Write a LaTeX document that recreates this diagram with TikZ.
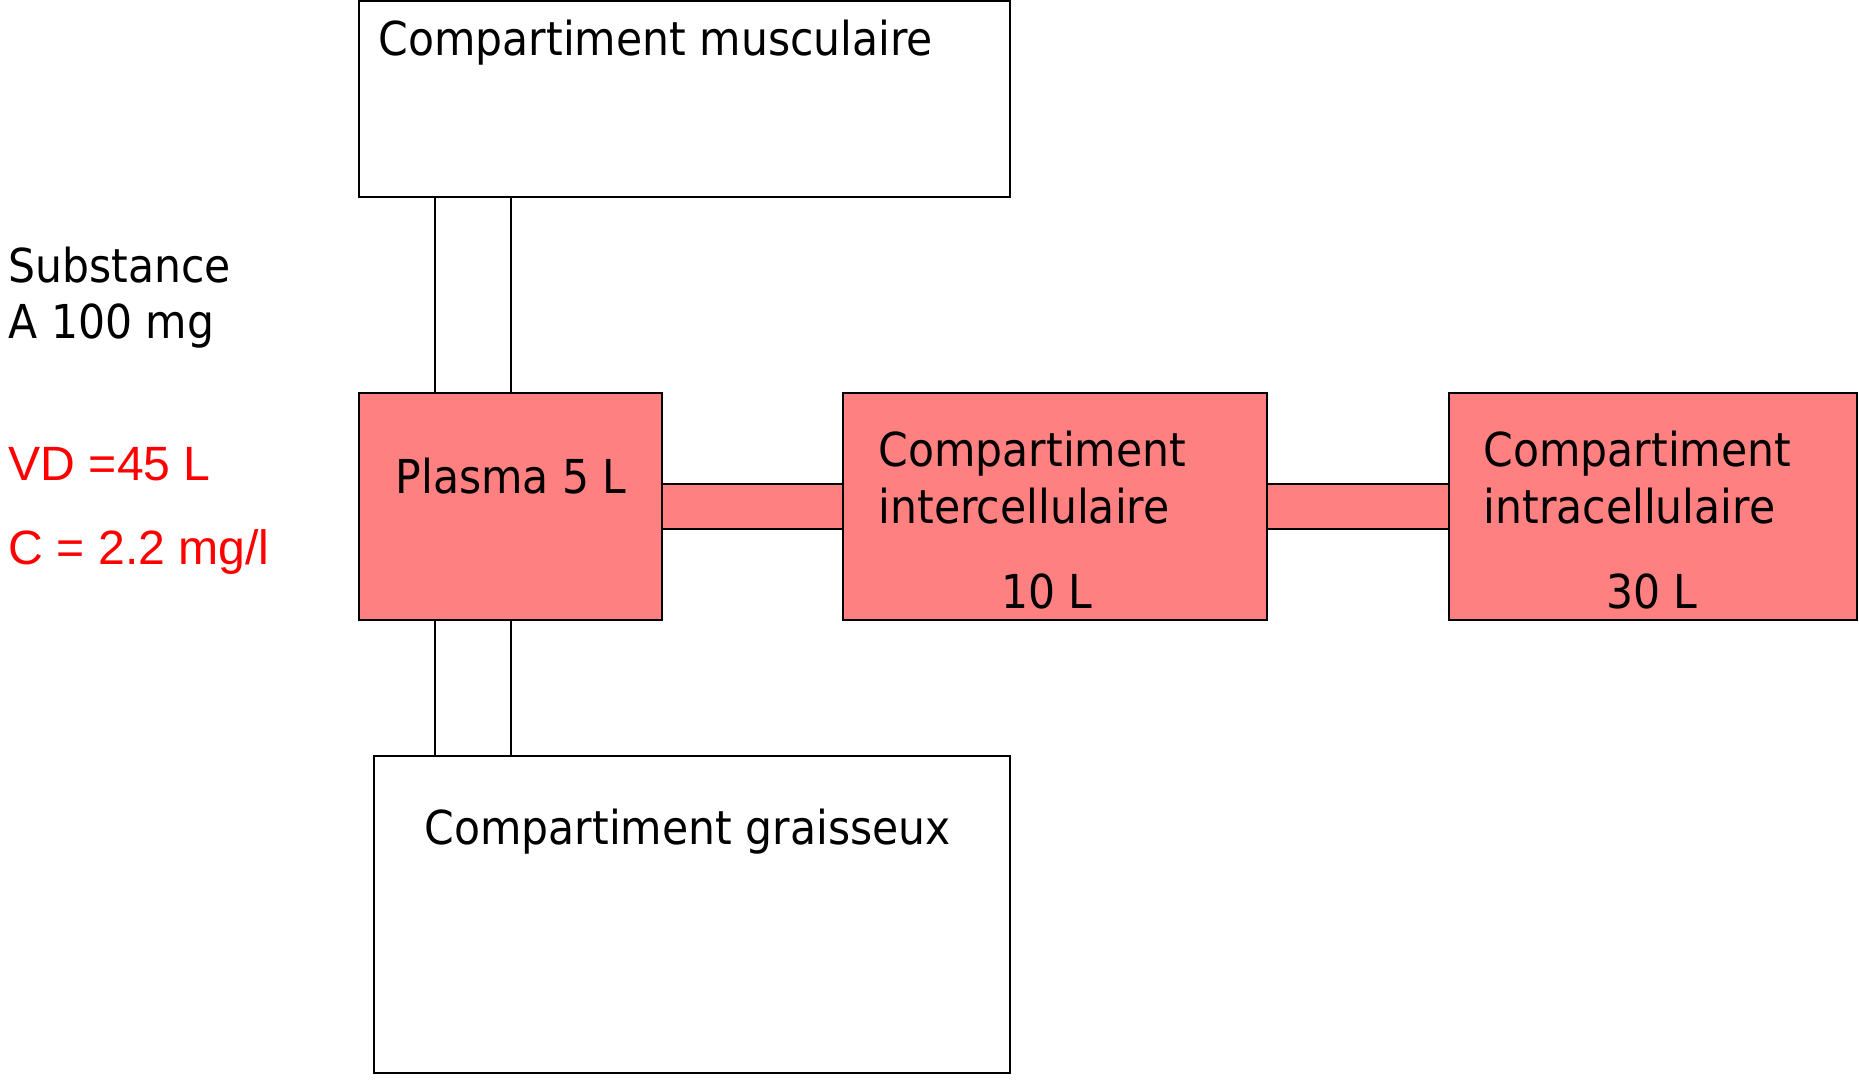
\documentclass[tikz,border=0pt]{standalone}
\usepackage{fontspec}
\usepackage{xcolor}
\usepackage{tikz}
\usetikzlibrary{positioning}
\newfontfamily\boxfont{DejaVu Sans}[FakeStretch=0.91]
\newfontfamily\redfont{Liberation Sans}
\definecolor{salmon}{RGB}{255,128,128}
\tikzstyle{compbox} = [rectangle, draw=black, line width=0.6pt, inner sep=0pt, outer sep=0pt]
\tikzstyle{whitebox} = [compbox, fill=white]
\tikzstyle{redbox} = [compbox, fill=salmon, minimum height=2.27cm]
\tikzstyle{tube} = [draw=black, line width=0.6pt]
\tikzstyle{txt} = [inner sep=0pt, anchor=base west, align=left,
                   font=\boxfont\fontsize{13.3}{16.2}\selectfont]
\tikzstyle{redtxt} = [inner sep=0pt, anchor=base west, text=red,
                      font=\redfont\fontsize{13.7}{16.2}\selectfont]

\begin{document}
\begin{tikzpicture}
  \useasboundingbox (0,0) rectangle (18.59,-10.80);
  % Place nodes
  \node [whitebox, anchor=north west, minimum width=6.51cm, minimum height=1.96cm] (musc) at (3.59,-0.01) {};
  \node [redbox, anchor=north west, minimum width=3.03cm] (plasma) at ([yshift=-1.96cm]musc.south west) {};
  \node [redbox, right=1.81cm of plasma, minimum width=4.24cm] (inter) {};
  \node [redbox, right=1.82cm of inter, minimum width=4.08cm] (intra) {};
  \node [whitebox, anchor=north west, minimum width=6.36cm, minimum height=3.17cm] (fat) at ([xshift=0.15cm, yshift=-1.36cm]plasma.south west) {};

  % Draw edges
  % tubes are drawn as thin boxes between the compartments
  \path [tube, fill=white] ([xshift=0.76cm]plasma.north west) rectangle ([xshift=1.52cm]musc.south west);
  \path [tube, fill=white] ([xshift=0.76cm]plasma.south west) rectangle ([xshift=1.37cm]fat.north west);
  \path [tube, fill=salmon] ([yshift=-0.91cm]plasma.north east) rectangle ([yshift=-1.36cm]inter.north west);
  \path [tube, fill=salmon] ([yshift=-0.91cm]inter.north east) rectangle ([yshift=-1.36cm]intra.north west);

  % Labels (base of a two line label is its last line)
  \node [txt] (musctxt) at ([xshift=0.19cm, yshift=-0.55cm]musc.north west) {Compartiment musculaire};
  \node [txt] (plasmatxt) at ([xshift=0.36cm, yshift=-1.01cm]plasma.north west) {Plasma 5 L};
  \node [txt] (intertxt) at ([xshift=0.35cm, yshift=-1.30cm]inter.north west) {Compartiment\\intercellulaire};
  \node [txt, anchor=base] (intervol) at ([xshift=-0.08cm, yshift=0.12cm]inter.south) {10 L};
  \node [txt] (intratxt) at ([xshift=0.34cm, yshift=-1.30cm]intra.north west) {Compartiment\\intracellulaire};
  \node [txt, anchor=base] (intravol) at ([xshift=-0.01cm, yshift=0.12cm]intra.south) {30 L};
  \node [txt] (fattxt) at ([xshift=0.50cm, yshift=-0.88cm]fat.north west) {Compartiment graisseux};
  \node [txt] (subst) at (0.08,-3.39) {Substance\\A 100 mg};
  \node [redtxt] (vd) at (0.08,-4.80) {VD =45 L};
  \node [redtxt] (conc) at (0.08,-5.65) {C = 2.2 mg/l};
\end{tikzpicture}
\end{document}
